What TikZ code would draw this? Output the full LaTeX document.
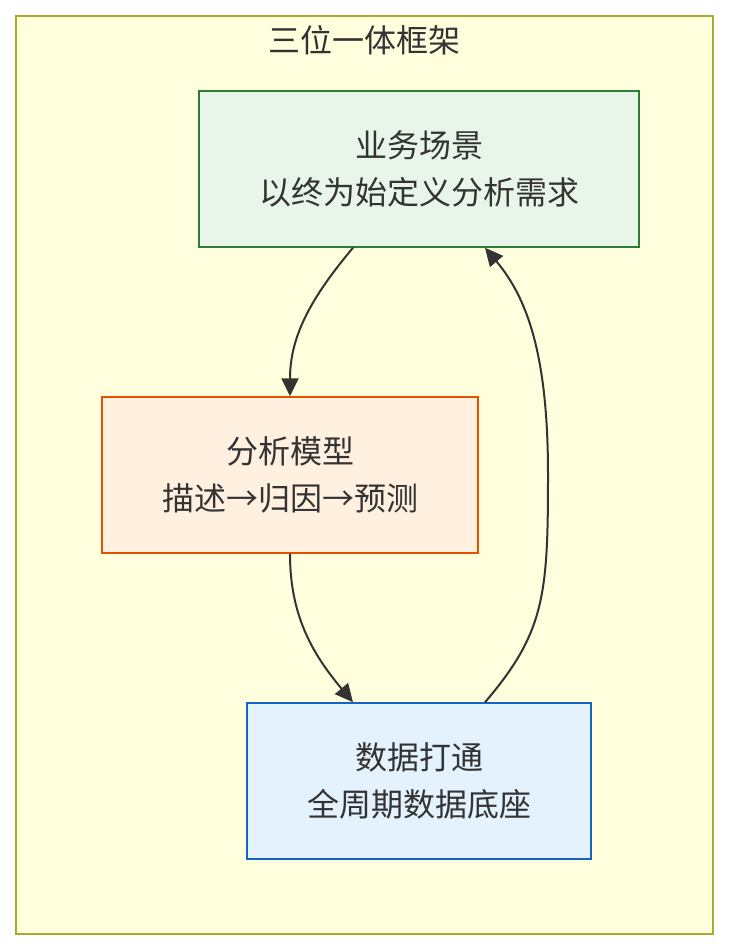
\documentclass[tikz,border=0pt]{standalone}
\usepackage{fontspec}
\setmainfont{Noto Sans CJK SC}
\usetikzlibrary{arrows.meta, positioning}
\definecolor{cframe}{HTML}{FFFFDE}
\definecolor{cframeline}{HTML}{AAAA33}
\definecolor{cgreen}{HTML}{2E7D32}
\definecolor{cgreenbg}{HTML}{E8F5E9}
\definecolor{corange}{HTML}{E65100}
\definecolor{corangebg}{HTML}{FFF0E0}
\definecolor{cblue}{HTML}{1565C0}
\definecolor{cbluebg}{HTML}{E3F2FD}
\definecolor{ctext}{HTML}{333333}
\tikzset{
  every picture/.style={font=\fontsize{32}{47}\selectfont, line width=1.5pt},
  box/.style={draw=#1, fill=#1bg, align=center, text=ctext, inner sep=0pt},
  arrow/.style={-{Triangle[length=18pt, width=17pt]}, draw=ctext, line width=2pt},
}
\begin{document}
\begin{tikzpicture}[x=1pt, y=-1pt]
  \useasboundingbox (0,0) rectangle (729,950);
  \node[draw=cframeline, fill=cframe, minimum width=697pt, minimum height=918pt, inner sep=0pt] (frame) at (364.5,475) {};
  \node[text=ctext] (title) at (364.5,40) {三位一体框架};
  \node[box=cgreen, minimum width=440pt, minimum height=156pt] (biz) at (419,169) {业务场景\\以终为始定义分析需求};
  \node[box=corange, minimum width=376pt, minimum height=156pt] (model) at (290,475) {分析模型\\描述→归因→预测};
  \node[box=cblue, minimum width=344pt, minimum height=156pt] (data) at (419,781) {数据打通\\全周期数据底座};
  \draw[arrow] ([xshift=-66pt]biz.south) .. controls +(-42,50) and +(0,-60) .. (model.north);
  \draw[arrow] (model.south) .. controls +(0,60) and +(-42,-50) .. ([xshift=-66pt]data.north);
  \draw[arrow] ([xshift=66pt]data.north) .. controls +(60,-70) and +(0,120) .. ++(63,-228)
    .. controls +(0,-120) and +(42,50) .. ([xshift=66pt]biz.south);
\end{tikzpicture}
\end{document}
